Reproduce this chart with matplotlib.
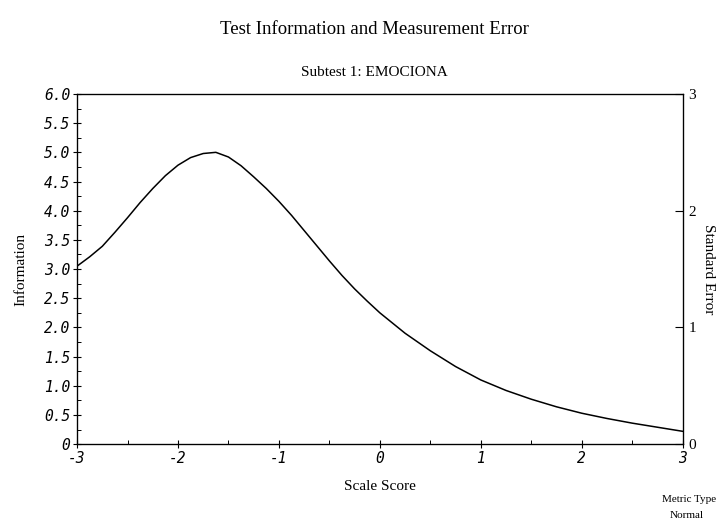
import matplotlib
matplotlib.use("Agg")
import matplotlib.pyplot as plt
import numpy as np

# test information curve
theta = [-3.0, -2.875, -2.75, -2.625, -2.5, -2.375, -2.25, -2.125, -2.0, -1.875, -1.75,
         -1.625, -1.5, -1.375, -1.25, -1.125, -1.0, -0.875, -0.75, -0.625, -0.5, -0.375,
         -0.25, -0.125, 0.0, 0.25, 0.5, 0.75, 1.0, 1.25, 1.5, 1.75, 2.0, 2.25, 2.5, 2.75, 3.0]
info = [3.05, 3.21, 3.39, 3.63, 3.88, 4.14, 4.38, 4.60, 4.78, 4.91, 4.98,
        5.00, 4.92, 4.77, 4.58, 4.38, 4.16, 3.92, 3.66, 3.40, 3.14, 2.89,
        2.66, 2.45, 2.25, 1.90, 1.60, 1.33, 1.10, 0.92, 0.77, 0.64, 0.53, 0.44, 0.36, 0.29, 0.22]
x_ticks = [-3, -2, -1, 0, 1, 2, 3]
y_ticks = [0, 0.5, 1.0, 1.5, 2.0, 2.5, 3.0, 3.5, 4.0, 4.5, 5.0, 5.5, 6.0]
y_labels = ["0", "0.5", "1.0", "1.5", "2.0", "2.5", "3.0", "3.5", "4.0", "4.5", "5.0", "5.5", "6.0"]
se_ticks = [0, 1, 2, 3]

SERIF = "Liberation Serif"
TICKF = dict(family="DejaVu Sans Mono", style="italic", size=10.5)

fig = plt.figure(figsize=(7.27, 5.25), dpi=100)
ax = fig.add_axes([0.106, 0.154, 0.833, 0.667])
ax.plot(theta, info, color="black", lw=1.1)
ax.set_xlim(-3, 3); ax.set_ylim(0, 6)
ax.set_xticks(x_ticks); ax.set_xticklabels([str(v) for v in x_ticks], **TICKF)
ax.set_yticks(y_ticks); ax.set_yticklabels(y_labels, **TICKF)
ax.set_xticks(np.arange(-2.5, 3, 1.0), minor=True)
ax.set_yticks(np.arange(0.25, 6, 0.5), minor=True)
ax.tick_params(axis="both", which="major", direction="inout", length=6, width=0.8, pad=2)
ax.tick_params(axis="both", which="minor", direction="in", length=3, width=0.7)
for s in ax.spines.values():
    s.set_linewidth(0.9)
ax.set_xlabel("Scale Score", family=SERIF, size=11, labelpad=10)
ax.set_ylabel("Information", family=SERIF, size=11, labelpad=12)

ax2 = ax.twinx()
ax2.set_ylim(0, 3)
ax2.set_yticks(se_ticks)
ax2.set_yticklabels([str(v) for v in se_ticks], family=SERIF, size=11)
ax2.tick_params(axis="y", direction="in", length=6, width=0.8, pad=4)
ax2.set_ylabel("Standard Error", family=SERIF, size=11, rotation=-90, labelpad=14)

fig.text(0.515, 0.943, "Test Information and Measurement Error", family=SERIF, size=13.5, ha="center", va="center")
fig.text(0.515, 0.861, "Subtest 1: EMOCIONA", family=SERIF, size=11, ha="center", va="center")
fig.text(0.985, 0.048, "Metric Type", family=SERIF, size=8, ha="right", va="center")
fig.text(0.968, 0.018, "Normal", family=SERIF, size=8, ha="right", va="center")

fig.savefig("out.png", dpi=100)
